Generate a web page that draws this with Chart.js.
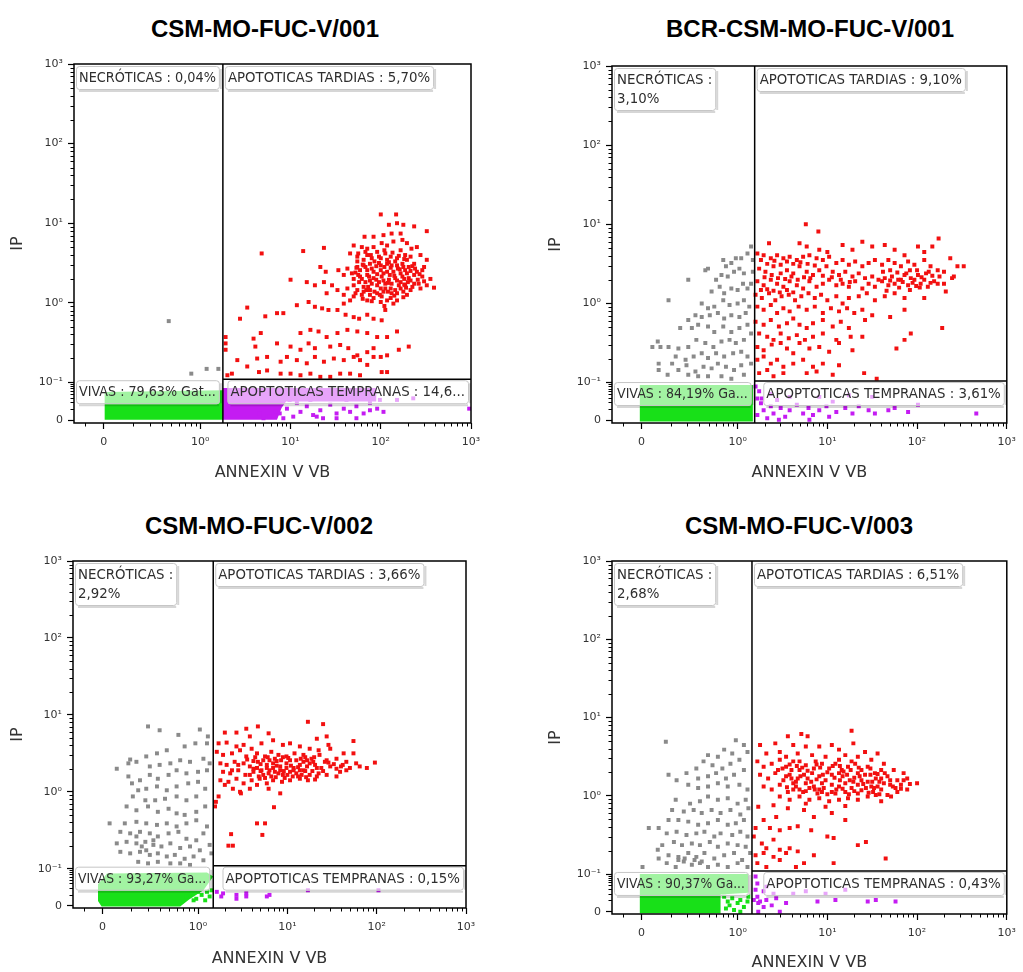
<!DOCTYPE html>
<html lang="es">
<head>
<meta charset="UTF-8">
<title>Anexina V / IP</title>
<script src="https://cdn.jsdelivr.net/npm/chart.js"></script>
<style>
  body { margin: 0; background: #fff; }
  #page { position: relative; width: 1023px; height: 972px; overflow: hidden; background: #fff; }
  .ttl { position: absolute; transform: translate(-50%, -50%); font: bold 24px "Liberation Sans", Arial, sans-serif; color: #000; white-space: nowrap; }
  canvas { position: absolute; }
</style>
</head>
<body>
<div id="page"></div>
<script>
// axes are in decade units: 10^n sits at n, the linear "0" sits below 10^0 / 10^-1
const xTickPos = [-1.07, 0, 1, 2, 3];
const xTickText = ['0', '10⁰', '10¹', '10²', '10³'];
const yTickPos = [-1.48, -1, 0, 1, 2, 3];
const yTickText = ['0', '10⁻¹', '10⁰', '10¹', '10²', '10³'];

const sampleNames = ['CSM-MO-FUC-V/001', 'BCR-CSM-MO-FUC-V/001', 'CSM-MO-FUC-V/002', 'CSM-MO-FUC-V/003'];
const gateX = [0.25, 0.19, 0.17, 0.16];
const gateY = [-0.96, -0.98, -0.96, -0.96];
const necroText = [['NECRÓTICAS : 0,04%'], ['NECRÓTICAS :', '3,10%'], ['NECRÓTICAS :', '2,92%'], ['NECRÓTICAS :', '2,68%']];
const tardiasText = [['APOTOTICAS TARDIAS : 5,70%'], ['APOTOTICAS TARDIAS : 9,10%'], ['APOTOTICAS TARDIAS : 3,66%'], ['APOTOTICAS TARDIAS : 6,51%']];
const vivasText = ['VIVAS : 79,63% Gat...', 'VIVAS : 84,19% Ga...', 'VIVAS : 93,27% Ga...', 'VIVAS : 90,37% Ga...'];
const tempranasText = ['APOPTOTICAS TEMPRANAS : 14,6...', 'APOPTOTICAS TEMPRANAS : 3,61%', 'APOPTOTICAS TEMPRANAS : 0,15%', 'APOPTOTICAS TEMPRANAS : 0,43%'];

// ---- CSM-MO-FUC-V/001 ----
const vivasBand001 = [[-1.06,-1.47],[-1.06,-1.12],[0.25,-1.10],[0.25,-1.47]];
const tempranasBand001 = [[0.25,-1.47],[0.25,-1.07],[1.95,-1.07],[1.95,-1.24],[0.95,-1.24],[0.90,-1.32],[0.85,-1.47]];
const tempranas001 = [[0.88,-1.39],[0.96,-1.33],[1.03,-1.43],[1.11,-1.37],[1.18,-1.30],[1.25,-1.41],[1.33,-1.35],[1.36,-1.45],[1.44,-1.28],[1.51,-1.39],[1.59,-1.33],[1.66,-1.37],[1.73,-1.30],[1.81,-1.39],[1.88,-1.35],[1.96,-1.33],[2.03,-1.37],[1.29,-1.43],[0.92,-1.45],[1.07,-1.26],[1.44,-1.18],[1.62,-1.22],[1.81,-1.18],[1.99,-1.22],[2.18,-1.22],[2.36,-1.20],[2.98,-1.33],[0.77,-1.43],[0.83,-1.37],[0.70,-1.45],[0.66,-1.39],[0.99,-1.22],[1.22,-1.22],[1.73,-1.45],[1.51,-1.45],[1.88,-1.26]];
const necro001 = [[-0.35,-0.23],[-0.10,-0.89],[0.07,-0.83],[0.20,-0.83]];
const tardias001 = [
  [2.00,1.11],[2.17,1.11],[2.09,0.98],[2.18,1.00],[2.25,0.98],[2.37,0.96],[2.51,0.90],
  [1.82,0.83],[1.92,0.83],[2.03,0.85],[2.12,0.87],[2.22,0.87],[2.24,0.79],[2.29,0.75],[2.34,0.68],[2.40,0.70],
  [1.70,0.72],[1.79,0.70],[1.85,0.68],[1.92,0.70],[2.01,0.75],[2.07,0.72],[2.14,0.77],[2.22,0.66],[2.27,0.60],[2.44,0.60],[2.51,0.54],
  [1.66,0.62],[1.74,0.58],[1.85,0.60],[1.96,0.64],[2.05,0.62],[2.11,0.58],[2.18,0.56],[2.29,0.54],[2.37,0.49],[2.48,0.45],
  [1.33,0.45],[1.39,0.39],[1.53,0.41],[1.63,0.43],[1.74,0.45],[1.81,0.47],[1.88,0.49],[2.00,0.47],[2.07,0.49],[2.18,0.47],[2.25,0.45],[2.40,0.39],[2.46,0.33],
  [1.59,0.35],[1.68,0.37],[1.77,0.33],[1.85,0.35],[1.92,0.31],[2.01,0.33],[2.09,0.29],[2.16,0.31],[2.22,0.26],[2.31,0.31],[2.37,0.24],[2.51,0.22],[2.59,0.19],
  [1.00,0.29],[1.18,0.26],[1.27,0.22],[1.37,0.26],[1.46,0.22],[1.52,0.16],[1.63,0.18],[1.70,0.22],[1.74,0.16],[1.81,0.20],[1.88,0.16],[1.96,0.22],[2.03,0.14],[2.11,0.18],[2.18,0.12],[2.25,0.14],[2.33,0.16],[2.44,0.18],
  [1.40,0.12],[1.59,0.10],[1.70,0.08],[1.79,0.10],[1.85,0.03],[1.92,0.06],[2.01,0.08],[2.11,0.06],[2.18,0.03],[2.29,0.10],
  [0.68,0.62],[1.14,0.65],[1.37,0.69],
  [0.52,-0.06],[0.44,-0.20],[0.72,-0.17],[0.85,-0.13],[0.92,-0.13],[1.07,-0.03],[1.20,0.01],[1.27,-0.05],[1.35,-0.07],[1.42,-0.09],[1.52,-0.09],[1.61,-0.15],[1.70,-0.18],[1.76,-0.20],[1.85,-0.15],[1.92,-0.20],[2.01,-0.22],[2.05,-0.09],
  [0.67,-0.38],[0.59,-0.45],[1.11,-0.38],[1.22,-0.34],[1.31,-0.36],[1.40,-0.43],[1.52,-0.38],[1.63,-0.34],[1.74,-0.36],[1.85,-0.38],[1.96,-0.43],[2.07,-0.43],[2.18,-0.36],[2.31,-0.55],
  [0.61,-0.55],[0.85,-0.51],[1.00,-0.55],[1.11,-0.59],[1.20,-0.51],[1.27,-0.57],[1.44,-0.55],[1.55,-0.53],[1.64,-0.57],[1.74,-0.66],[1.85,-0.62],[1.92,-0.57],[2.00,-0.68],[2.07,-0.66],[2.20,-0.59],
  [0.41,-0.72],[0.63,-0.70],[0.74,-0.68],[0.89,-0.74],[0.96,-0.68],[1.07,-0.72],[1.18,-0.76],[1.27,-0.68],[1.37,-0.74],[1.48,-0.70],[1.59,-0.72],[1.70,-0.68],[1.77,-0.72],[1.85,-0.78],[1.92,-0.68],[2.01,-0.87],[2.07,-0.87],
  [0.30,-0.91],[0.35,-0.89],[0.52,-0.80],[0.65,-0.87],[0.74,-0.85],[0.89,-0.89],[1.00,-0.89],[1.11,-0.91],[1.22,-0.89],[1.33,-0.93],[1.44,-0.93],[1.55,-0.89],[1.66,-0.89],[1.77,-0.91],
  [0.28,-0.43],[0.28,-0.51],[0.28,-0.59],
  [1.74,0.52],[1.81,0.54],[1.90,0.56],[2.00,0.56],[2.07,0.54],[2.16,0.52],[2.24,0.49],[2.31,0.45],[2.38,0.43],
  [1.76,0.26],[1.83,0.26],[1.90,0.24],[1.98,0.26],[2.05,0.24],[2.12,0.24],[2.20,0.22],[2.27,0.22],[2.35,0.20],[2.42,0.24],
  [1.77,0.41],[1.85,0.41],[1.92,0.39],[2.00,0.41],[2.07,0.39],[2.14,0.39],[2.22,0.37],[2.29,0.37],[2.37,0.35],
  [1.81,0.14],[1.88,0.10],[1.96,0.12],[2.05,0.18],[2.12,0.12],[2.22,0.18],[2.07,0.03],[2.14,-0.01],[2.00,0.01],[1.66,0.03],[1.59,-0.01],
  [1.79,0.30],[1.88,0.28],[1.96,0.36],[2.03,0.28],[2.10,0.35],[2.18,0.28],[2.26,0.30],[1.80,0.48],[1.95,0.46],[2.11,0.44],[2.21,0.42],[2.30,0.26],[1.86,0.20],[2.00,0.18],[2.16,0.16],[2.28,0.19],[1.93,0.52],[2.09,0.51],[2.33,0.40],[1.72,0.38],
  [1.75,0.62],[1.83,0.64],[1.89,0.60],[1.98,0.58],[2.04,0.66],[2.13,0.63],[2.20,0.59],[2.26,0.55],[2.33,0.58],
  [1.73,0.44],[1.83,0.45],[1.90,0.43],[1.98,0.50],[2.04,0.45],[2.12,0.47],[2.19,0.43],[2.27,0.41],[2.35,0.46],[2.43,0.36],
  [1.70,0.30],[1.75,0.35],[1.87,0.33],[1.95,0.29],[2.03,0.37],[2.08,0.25],[2.15,0.34],[2.24,0.33],[2.33,0.28],[2.41,0.29],
  [1.72,0.12],[1.84,0.16],[1.93,0.14],[1.99,0.10],[2.08,0.14],[2.15,0.09],[2.25,0.07],[1.90,0.02],[2.04,-0.04],[1.80,0.05],[2.26,0.23],[2.48,0.27],[2.55,0.30],[2.46,0.41]
];

// ---- BCR-CSM-MO-FUC-V/001 ----
const vivasBandBcr001 = [[-1.09,-1.49],[-1.09,-1.03],[0.17,-1.03],[0.17,-1.49]];
const tempranasBcr001 = [[0.20,-1.05],[0.24,-1.11],[0.22,-1.20],[0.26,-1.26],[0.29,-1.35],[0.22,-1.41],[0.33,-1.45],[0.37,-1.30],[0.40,-1.39],[0.44,-1.22],[0.48,-1.32],[0.53,-1.43],[0.58,-1.35],[0.66,-1.28],[0.73,-1.39],[0.79,-1.32],[0.84,-1.41],[0.91,-1.35],[0.99,-1.30],[1.02,-1.43],[1.10,-1.37],[1.20,-1.32],[1.28,-1.39],[1.35,-1.30],[1.46,-1.35],[1.53,-1.39],[1.68,-1.35],[1.75,-1.32],[1.90,-1.37],[2.01,-1.28],[2.66,-1.39],[0.37,-1.14],[0.58,-1.18],[0.91,-1.18],[1.24,-1.16],[1.50,-1.18],[0.27,-1.20],[0.46,-1.47],[0.80,-1.47],[1.06,-1.24]];
const necroBcr001 = [
  [0.15,0.72],[0.11,0.63],[0.04,0.57],[-0.02,0.57],[-0.07,0.51],[-0.16,0.55],[-0.13,0.47],[0.02,0.44],[0.07,0.38],[-0.04,0.40],[-0.11,0.34],[-0.18,0.36],[-0.24,0.30],[-0.33,0.44],[-0.36,0.42],[-0.55,0.30],[-0.77,0.04],
  [0.15,0.25],[0.11,0.19],[0.06,0.25],[0.00,0.17],[-0.07,0.19],[-0.15,0.13],[-0.20,0.21],[-0.29,0.15],[-0.40,0.00],[-0.33,-0.06],[-0.26,-0.04],[-0.16,0.04],[-0.09,-0.02],[0.00,0.00],[0.07,0.04],[0.13,-0.04],
  [0.09,-0.12],[0.02,-0.17],[-0.07,-0.15],[-0.15,-0.19],[-0.22,-0.12],[-0.31,-0.15],[-0.40,-0.17],[-0.47,-0.15],[-0.55,-0.21],[-0.51,-0.31],[-0.64,-0.31],[-0.44,-0.27],[-0.33,-0.29],[-0.26,-0.36],[-0.16,-0.29],[-0.07,-0.36],[0.02,-0.31],[0.11,-0.27],
  [0.15,-0.38],[0.07,-0.46],[-0.02,-0.50],[-0.09,-0.46],[-0.18,-0.48],[-0.27,-0.55],[-0.36,-0.50],[-0.46,-0.46],[-0.55,-0.55],[-0.66,-0.57],[-0.77,-0.55],[-0.86,-0.55],[-0.95,-0.55],[-0.89,-0.48],
  [-0.69,-0.67],[-0.58,-0.71],[-0.49,-0.67],[-0.40,-0.63],[-0.33,-0.69],[-0.24,-0.63],[-0.15,-0.67],[-0.05,-0.63],[0.04,-0.61],[0.11,-0.67],[0.15,-0.76],[0.04,-0.78],[-0.04,-0.84],[-0.13,-0.80],[-0.22,-0.76],[-0.29,-0.82],[-0.38,-0.80],[-0.47,-0.86],[-0.57,-0.78],[-0.66,-0.84],[-0.73,-0.76],[-0.88,-0.76],[-0.88,-0.84],[-0.78,-0.90],[-0.55,-0.90],[-0.44,-0.92],[-0.33,-0.92],[-0.18,-0.92],[-0.07,-0.95],[0.07,-0.90],[0.17,0.55],[0.17,0.40]
];
const tardiasBcr001 = [
  [0.76,1.00],[0.90,0.91],[0.35,0.76],[0.69,0.76],[0.77,0.72],[0.91,0.68],[1.00,0.65],[1.17,0.74],[1.28,0.68],[1.39,0.78],[1.50,0.72],[1.64,0.74],[1.75,0.68],[1.86,0.61],[2.01,0.72],[2.08,0.65],[2.17,0.72],[2.24,0.82],[2.37,0.57],[2.45,0.47],[2.52,0.47],
  [0.22,0.63],[0.29,0.61],[0.37,0.57],[0.44,0.61],[0.51,0.57],[0.58,0.59],[0.66,0.55],[0.73,0.59],[0.80,0.61],[0.88,0.57],[0.95,0.55],[1.02,0.59],[1.10,0.51],[1.17,0.55],[1.24,0.49],[1.31,0.53],[1.39,0.47],[1.46,0.51],[1.53,0.55],[1.61,0.49],[1.68,0.55],[1.75,0.51],[1.82,0.47],[1.90,0.53],[1.97,0.49],[2.08,0.55],[2.15,0.47],[2.23,0.42],[2.30,0.40],[2.41,0.34],
  [0.24,0.44],[0.31,0.40],[0.40,0.47],[0.48,0.38],[0.55,0.42],[0.62,0.38],[0.69,0.47],[0.77,0.40],[0.84,0.36],[0.91,0.42],[0.99,0.47],[1.06,0.40],[1.13,0.36],[1.20,0.40],[1.28,0.34],[1.35,0.38],[1.42,0.32],[1.50,0.34],[1.57,0.30],[1.64,0.32],[1.72,0.34],[1.79,0.30],[1.86,0.36],[1.93,0.32],[2.01,0.36],[2.08,0.30],[2.13,0.40],[2.19,0.28],[2.30,0.25],[2.39,0.32],
  [0.22,0.28],[0.29,0.23],[0.37,0.30],[0.44,0.25],[0.51,0.21],[0.58,0.28],[0.66,0.23],[0.73,0.19],[0.80,0.28],[0.88,0.21],[0.95,0.25],[1.02,0.30],[1.10,0.23],[1.17,0.25],[1.24,0.21],[1.31,0.28],[1.39,0.19],[1.46,0.25],[1.53,0.21],[1.61,0.28],[1.68,0.23],[1.75,0.25],[1.82,0.30],[1.90,0.23],[1.97,0.30],[2.04,0.25],[2.12,0.21],[2.23,0.25],[2.32,0.15],
  [1.84,0.27],[1.95,0.26],[2.05,0.33],[1.70,0.29],[1.99,0.22],[1.88,0.38],
  [0.20,0.11],[0.27,0.07],[0.35,0.13],[0.42,0.04],[0.49,0.09],[0.57,0.11],[0.64,0.04],[0.71,0.09],[0.79,0.13],[0.86,0.07],[0.93,0.11],[1.00,0.04],[1.10,0.09],[1.17,0.00],[1.24,0.07],[1.35,0.09],[1.44,0.13],[1.53,0.04],[1.64,0.09],[1.75,0.13],[1.86,0.07],[2.08,0.07],
  [0.22,-0.04],[0.29,-0.08],[0.37,-0.02],[0.44,-0.12],[0.51,-0.06],[0.58,-0.10],[0.68,-0.04],[0.77,-0.08],[0.86,-0.04],[0.95,-0.12],[1.04,-0.06],[1.13,-0.10],[1.22,-0.06],[1.30,-0.12],[1.39,-0.08],[1.50,-0.15],[1.70,-0.17],[1.86,-0.08],
  [0.20,-0.23],[0.29,-0.27],[0.37,-0.21],[0.46,-0.29],[0.55,-0.25],[0.62,-0.19],[0.69,-0.27],[0.77,-0.31],[0.84,-0.25],[0.95,-0.21],[1.06,-0.29],[1.15,-0.23],[1.24,-0.31],[1.42,-0.21],[2.28,-0.31],
  [0.24,-0.38],[0.33,-0.42],[0.40,-0.46],[0.48,-0.38],[0.57,-0.44],[0.66,-0.40],[0.75,-0.46],[0.84,-0.42],[0.95,-0.38],[1.10,-0.46],[1.26,-0.42],[1.39,-0.42],[1.77,-0.57],[1.86,-0.46],[1.93,-0.38],
  [0.22,-0.55],[0.29,-0.59],[0.38,-0.52],[0.48,-0.50],[0.55,-0.57],[0.62,-0.63],[0.69,-0.50],[0.80,-0.57],[0.91,-0.55],[1.02,-0.61],[1.13,-0.50],[1.28,-0.59],
  [0.22,-0.71],[0.29,-0.67],[0.37,-0.76],[0.44,-0.71],[0.51,-0.80],[0.62,-0.76],[0.73,-0.71],[0.84,-0.80],[0.95,-0.76],[1.13,-0.78],
  [0.24,-0.88],[0.33,-0.84],[0.40,-0.92],[0.51,-0.88],[0.77,-0.88],[0.88,-0.86],[1.06,-0.90],[1.41,-0.88],[1.55,-0.95],
  [0.26,0.55],[0.33,0.50],[0.41,0.54],[0.48,0.49],[0.55,0.53],[0.62,0.50],[0.70,0.52],[0.78,0.50],[0.86,0.48],[0.30,0.33],[0.38,0.36],[0.45,0.32],[0.53,0.31],[0.60,0.34],[0.67,0.30],[0.74,0.33],[0.81,0.32],
  [0.26,0.17],[0.33,0.18],[0.40,0.16],[0.47,0.14],[0.55,0.17],[0.62,0.14],[1.62,0.40],[1.70,0.42],[1.78,0.39],[1.92,0.42],[2.00,0.42],[2.10,0.38],[2.17,0.35],[2.25,0.34],[1.66,0.16],[1.80,0.20],[1.92,0.17],[2.03,0.20],[2.15,0.26],[0.95,0.35],[1.05,0.33],[1.15,0.30],[1.25,0.27]
];

// ---- CSM-MO-FUC-V/002 ----
const vivasBand002 = [[-1.08,-1.49],[-1.12,-1.42],[-1.12,-1.2],[-1.02,-1.06],[0.10,-1.05],[0.17,-1.1],[0.06,-1.28],[-0.10,-1.4],[-0.20,-1.49]];
const vivasDots002 = [[-0.13,-1.36],[-0.07,-1.32],[-0.02,-1.39],[0.04,-1.34],[0.10,-1.30],[0.13,-1.36],[0.08,-1.41],[0.00,-1.30],[-0.05,-1.41],[0.15,-1.28]];
const tempranas002 = [[0.21,-1.30],[0.26,-1.36],[0.28,-1.32],[0.43,-1.34],[0.43,-1.39],[0.54,-1.32],[0.54,-1.36],[0.77,-1.36],[0.80,-1.34],[1.23,-1.28],[2.02,-1.28]];
const necro002 = [
  [-0.56,0.85],[-0.43,0.80],[-0.22,0.74],[0.02,0.81],[0.11,0.72],[0.10,0.63],[-0.03,0.63],[-0.15,0.59],[-0.35,0.54],[-0.46,0.50],[-0.58,0.46],[-0.76,0.42],[-0.91,0.30],[-0.78,0.37],[-0.69,0.39],[-0.54,0.33],[-0.43,0.35],[-0.31,0.37],[-0.20,0.41],[-0.09,0.39],[0.06,0.43],[0.13,0.37],
  [0.10,0.28],[0.00,0.26],[-0.13,0.24],[-0.24,0.28],[-0.33,0.22],[-0.45,0.17],[-0.54,0.22],[-0.65,0.15],[-0.74,0.11],[-0.78,0.20],[-0.67,0.02],[-0.58,0.04],[-0.46,0.07],[-0.35,0.02],[-0.24,0.07],[-0.11,0.11],[0.00,0.13],[0.08,0.04],
  [-0.02,-0.06],[-0.13,-0.11],[-0.24,-0.06],[-0.37,-0.09],[-0.48,-0.11],[-0.59,-0.11],[-0.73,-0.06],[-0.80,-0.19],[-0.69,-0.24],[-0.56,-0.19],[-0.45,-0.26],[-0.33,-0.22],[-0.24,-0.28],[-0.15,-0.30],[-0.02,-0.26],[0.08,-0.19],
  [0.10,-0.45],[-0.02,-0.37],[-0.13,-0.41],[-0.24,-0.45],[-0.35,-0.41],[-0.46,-0.43],[-0.58,-0.41],[-0.69,-0.39],[-0.82,-0.41],[-0.99,-0.41],[-0.87,-0.52],[-0.76,-0.54],[-0.65,-0.52],[-0.54,-0.54],[-0.45,-0.58],[-0.33,-0.54],[-0.22,-0.52],[-0.13,-0.61],[-0.02,-0.63],[0.06,-0.54],
  [-0.91,-0.67],[-0.80,-0.65],[-0.69,-0.67],[-0.59,-0.65],[-0.50,-0.69],[-0.41,-0.71],[-0.31,-0.67],[-0.20,-0.73],[-0.09,-0.71],[0.02,-0.76],[0.13,-0.69],
  [-0.87,-0.78],[-0.76,-0.80],[-0.65,-0.78],[-0.54,-0.82],[-0.45,-0.80],[-0.35,-0.84],[-0.26,-0.82],[-0.15,-0.87],[-0.05,-0.84],[0.06,-0.89],[0.15,-0.80],
  [-0.67,-0.91],[-0.56,-0.93],[-0.45,-0.91],[-0.31,-0.93],[-0.20,-0.93],[-0.09,-0.95],[-0.63,-0.71],[-0.58,-0.76],[-0.50,-0.63],[-0.69,-0.58]
];
const tardias002 = [
  [1.23,0.91],[1.40,0.88],[0.67,0.85],[0.54,0.82],[0.43,0.77],[0.30,0.77],[0.79,0.76],[0.58,0.72],[1.33,0.69],[1.44,0.72],[1.46,0.61],[1.74,0.66],
  [0.23,0.63],[0.32,0.64],[0.43,0.59],[0.51,0.61],[0.60,0.56],[0.71,0.63],[0.84,0.67],[0.95,0.61],[1.03,0.63],[1.14,0.59],[1.25,0.56],[1.35,0.54],[1.48,0.56],[1.63,0.50],[1.74,0.50],
  [0.21,0.52],[0.28,0.48],[0.38,0.50],[0.47,0.54],[0.54,0.46],[0.66,0.50],[0.75,0.46],[0.82,0.52],[0.90,0.48],[0.99,0.46],[1.08,0.50],[1.18,0.48],[1.27,0.43],[1.36,0.48],[1.44,0.41],[1.55,0.43],[1.66,0.39],[1.77,0.37],[1.81,0.33],[1.89,0.31],[1.98,0.38],
  [0.25,0.37],[0.32,0.35],[0.41,0.39],[0.51,0.37],[0.58,0.33],[0.67,0.39],[0.77,0.35],[0.84,0.37],[0.92,0.33],[0.99,0.37],[1.07,0.31],[1.14,0.35],[1.22,0.33],[1.31,0.35],[1.38,0.31],[1.48,0.33],[1.59,0.26],[1.66,0.28],
  [0.28,0.26],[0.36,0.24],[0.45,0.28],[0.53,0.22],[0.62,0.26],[0.71,0.28],[0.79,0.24],[0.86,0.26],[0.95,0.22],[1.03,0.26],[1.10,0.24],[1.18,0.28],[1.25,0.22],[1.35,0.24],[1.44,0.22],[1.55,0.20],
  [0.25,0.15],[0.34,0.13],[0.43,0.17],[0.51,0.11],[0.60,0.15],[0.69,0.17],[0.77,0.11],[0.84,0.15],[0.94,0.13],[1.03,0.15],[1.14,0.17],[1.23,0.15],[1.33,0.20],
  [0.30,0.09],[0.39,0.04],[0.47,0.00],[0.58,0.04],[0.66,0.09],[0.79,0.04],[0.92,-0.02],[0.23,-0.06],[0.20,-0.13],[0.19,-0.19],[0.48,-0.02],[0.85,-0.20],[0.66,-0.41],[0.75,-0.41],[0.37,-0.55],[0.72,-0.56],[0.34,-0.70],[0.39,-0.70],
  [0.77,0.31],[0.84,0.31],[0.92,0.28],[0.99,0.31],[1.07,0.28],[1.14,0.28],[0.66,0.31],[0.58,0.22],[1.18,0.39],[1.25,0.37],[1.33,0.31],[1.10,0.41],[1.03,0.41],[0.80,0.41],[0.88,0.40],[0.73,0.41],
  [0.73,0.22],[0.82,0.20],[0.90,0.24],[0.97,0.18],[1.06,0.20],[1.16,0.22],[1.28,0.27],[1.40,0.27],[1.46,0.38],[1.20,0.45],[0.95,0.45],[0.70,0.36],[0.62,0.40],[1.52,0.36],[1.60,0.33],
  [0.55,0.42],[0.64,0.45],[0.78,0.45],[0.86,0.43],[0.93,0.41],[1.01,0.44],[1.15,0.43],[1.22,0.41],[1.30,0.45],[0.62,0.30],[0.70,0.27],[0.80,0.28],[0.88,0.34],[0.96,0.27],[1.04,0.34],[1.12,0.32],
  [1.20,0.27],[1.29,0.39],[1.42,0.39],[0.68,0.20],[0.75,0.18],[0.87,0.19],[1.00,0.22],[1.12,0.20],[1.21,0.19],[1.31,0.16],[0.45,0.35],[0.38,0.28],[1.55,0.30],[1.62,0.35],[1.70,0.31]
];

// ---- CSM-MO-FUC-V/003 ----
const vivasBand003 = [[-1.09,-1.50],[-1.09,-1.0],[0.12,-1.0],[0.12,-1.24],[-0.19,-1.26],[-0.19,-1.50]];
const vivasDots003 = [[-0.15,-1.29],[-0.11,-1.35],[-0.06,-1.31],[0.00,-1.37],[0.03,-1.33],[0.07,-1.42],[0.11,-1.35],[-0.13,-1.44],[-0.04,-1.46],[0.03,-1.48],[0.12,-1.29],[-0.09,-1.40]];
const tempranas003 = [[0.20,-1.03],[0.22,-1.12],[0.20,-1.20],[0.22,-1.29],[0.25,-1.35],[0.29,-1.42],[0.23,-1.48],[0.32,-1.33],[0.38,-1.40],[0.43,-1.31],[0.47,-1.48],[0.54,-1.37],[0.62,-1.25],[0.76,-1.22],[0.89,-1.35],[0.98,-1.25],[1.09,-1.33],[1.20,-1.20],[1.45,-1.35],[1.54,-1.33],[1.76,-1.35],[0.32,-1.16],[0.40,-1.25],[0.29,-1.22],[0.23,-1.37],[0.18,-1.33]];
const necro003 = [
  [-0.80,0.69],[-0.02,0.71],[0.07,0.65],[-0.15,0.59],[-0.06,0.54],[0.11,0.56],[-0.22,0.50],[-0.33,0.52],[-0.46,0.35],[-0.38,0.44],[-0.28,0.39],[-0.17,0.35],[-0.08,0.41],[0.02,0.46],[0.07,0.33],[-0.04,0.27],[-0.13,0.22],[-0.24,0.29],[-0.33,0.25],[-0.44,0.22],[-0.57,0.29],[-0.68,0.20],[-0.77,0.27],
  [-0.55,0.14],[-0.44,0.10],[-0.33,0.12],[-0.22,0.16],[-0.11,0.12],[0.02,0.14],[0.11,0.08],[0.09,-0.05],[0.00,-0.10],[-0.11,-0.03],[-0.22,-0.05],[-0.33,-0.01],[-0.42,-0.07],[-0.53,-0.10],[-0.69,-0.05],
  [-0.73,-0.18],[-0.60,-0.20],[-0.49,-0.18],[-0.40,-0.22],[-0.29,-0.18],[-0.19,-0.22],[-0.08,-0.18],[0.03,-0.24],[0.12,-0.16],[0.07,-0.31],[-0.02,-0.35],[-0.11,-0.37],[-0.22,-0.31],[-0.33,-0.35],[-0.44,-0.37],[-0.55,-0.33],[-0.66,-0.31],[-0.77,-0.31],
  [-0.88,-0.41],[-0.99,-0.41],[-0.79,-0.48],[-0.68,-0.46],[-0.57,-0.50],[-0.46,-0.48],[-0.37,-0.46],[-0.26,-0.52],[-0.19,-0.48],[-0.06,-0.50],[0.03,-0.46],[0.11,-0.52],
  [0.09,-0.65],[0.00,-0.63],[-0.11,-0.61],[-0.22,-0.65],[-0.31,-0.59],[-0.42,-0.63],[-0.51,-0.61],[-0.62,-0.63],[-0.71,-0.59],[-0.84,-0.63],[-0.89,-0.69],
  [-0.77,-0.76],[-0.66,-0.78],[-0.55,-0.73],[-0.46,-0.78],[-0.37,-0.73],[-0.26,-0.80],[-0.15,-0.76],[-0.04,-0.73],[0.05,-0.82],[0.14,-0.73],
  [-0.88,-0.80],[-0.79,-0.86],[-0.69,-0.91],[-0.60,-0.84],[-0.51,-0.88],[-0.42,-0.86],[-0.33,-0.91],[-0.22,-0.88],[-0.11,-0.91],[0.00,-0.86],[0.11,-0.91],[-1.06,-0.91],[-0.66,-0.82],[-0.59,-0.80],[-0.48,-0.82],[-0.40,-0.84]
];
const tardias003 = [
  [1.27,0.83],[0.71,0.79],[0.78,0.76],[0.56,0.76],[1.29,0.67],[0.25,0.65],[0.42,0.67],[0.62,0.65],[0.76,0.63],[0.91,0.63],[1.05,0.65],[1.13,0.59],[1.42,0.56],[1.56,0.54],[0.32,0.54],[0.47,0.56],[0.54,0.50],[0.67,0.54],[0.83,0.52],[0.98,0.50],[1.20,0.52],[1.34,0.50],[1.49,0.46],[1.63,0.41],[1.74,0.33],[1.85,0.29],[1.89,0.22],[2.00,0.16],[1.89,0.08],[1.71,-0.01],[1.60,-0.07],
  [0.22,0.44],[0.29,0.37],[0.38,0.41],[0.45,0.33],[0.54,0.37],[0.62,0.44],[0.69,0.33],[0.76,0.39],[0.85,0.35],[0.94,0.41],[1.02,0.35],[1.09,0.41],[1.16,0.33],[1.23,0.37],[1.31,0.41],[1.38,0.33],[1.45,0.37],[1.53,0.29],[1.60,0.33],[1.67,0.25],[1.78,0.20],
  [0.25,0.27],[0.34,0.22],[0.42,0.29],[0.51,0.20],[0.58,0.27],[0.67,0.22],[0.74,0.27],[0.82,0.18],[0.91,0.25],[0.98,0.20],[1.05,0.27],[1.14,0.20],[1.22,0.27],[1.29,0.18],[1.36,0.25],[1.45,0.18],[1.54,0.22],[1.63,0.16],[1.73,0.12],[1.82,0.14],
  [0.29,0.12],[0.38,0.08],[0.47,0.14],[0.56,0.05],[0.65,0.12],[0.73,0.05],[0.80,0.10],[0.89,0.03],[0.96,0.10],[1.05,0.05],[1.13,0.12],[1.20,0.05],[1.27,0.10],[1.34,0.03],[1.43,0.10],[1.51,0.05],[1.60,0.08],[1.67,0.01],[1.78,0.05],
  [0.47,-0.01],[0.58,-0.05],[0.69,-0.01],[0.80,-0.05],[0.91,-0.03],[1.02,-0.07],[1.13,-0.05],[1.23,-0.03],[1.34,-0.05],[1.45,-0.01],[1.54,0.01],[1.09,0.03],[0.94,0.16],[0.83,0.29],[1.13,0.46],[1.27,0.44],[0.76,-0.10],[0.98,-0.14],[1.20,-0.13],
  [0.62,0.16],[0.76,0.16],[1.05,0.14],[1.20,0.16],[1.34,0.14],[1.49,0.12],[0.54,0.25],[1.13,0.29],[1.42,0.27],[1.56,0.12],[0.87,0.44],[0.69,0.44],[0.47,0.46],[1.34,0.29],[0.91,0.08],[0.69,0.08],
  [0.60,0.33],[0.72,0.36],[0.88,0.40],[1.00,0.30],[1.18,0.31],[1.30,0.23],[1.48,0.27],[1.58,0.18],[0.65,0.18],[0.85,0.12],[1.00,0.02],[1.17,0.09],[1.30,0.06],[1.40,0.15],[1.52,0.10],[1.70,0.20],[0.55,0.11],
  [0.50,0.35],[0.58,0.40],[0.66,0.38],[0.78,0.32],[0.92,0.36],[1.06,0.38],[1.14,0.38],[1.26,0.33],[1.35,0.36],[1.48,0.35],[1.56,0.28],[1.64,0.29],[0.60,0.22],[0.70,0.25],[0.78,0.22],[0.88,0.21],
  [0.95,0.27],[1.08,0.23],[1.17,0.25],[1.25,0.20],[1.38,0.20],[1.50,0.18],[1.60,0.22],[1.70,0.14],[1.76,0.10],[0.62,0.08],[0.76,0.06],[0.86,0.08],[0.94,0.05],[1.10,0.08],[1.24,0.02],[1.38,0.07],
  [1.46,0.04],[1.58,0.02],[1.85,0.20],[1.92,0.15],[1.82,0.09],
  [0.23,-0.14],[0.40,-0.12],[0.56,-0.16],[0.74,-0.18],[0.85,-0.27],[1.05,-0.22],[1.20,-0.31],[0.43,-0.27],[0.29,-0.31],[0.20,-0.41],[0.36,-0.41],[0.47,-0.44],[0.58,-0.41],[0.67,-0.39],[0.82,-0.44],[1.00,-0.52],[1.07,-0.54],[1.34,-0.63],[1.43,-0.59],[1.65,-0.80],
  [0.18,-0.52],[0.27,-0.61],[0.32,-0.67],[0.40,-0.56],[0.47,-0.69],[0.58,-0.67],[0.67,-0.71],[0.85,-0.76],[0.29,-0.73],[0.20,-0.76],[0.22,-0.86],[0.32,-0.91],[0.47,-0.82],[0.65,-0.91],[0.74,-0.86],[1.07,-0.86],[0.54,-0.73],[0.40,-0.78]
];

const vivasBands = [vivasBand001, vivasBandBcr001, vivasBand002, vivasBand003];
const vivasDots = [[], [], vivasDots002, vivasDots003];
const tempranasBands = [tempranasBand001, null, null, null];
const tempranasDots = [tempranas001, tempranasBcr001, tempranas002, tempranas003];
const necroDots = [necro001, necroBcr001, necro002, necro003];
const tardiasDots = [tardias001, tardiasBcr001, tardias002, tardias003];

const GREEN = '#18e018', VIOLET = '#c41cf2', RED = '#f21010', GREY = '#8a8a8a';
const LABEL_FONT = '14.5px "DejaVu Sans", sans-serif';
const SX = 0.92;

// panel placement on the page
const frames = [
  { left: 0,   top: 50,  w: 500, h: 440, yAxisW: 74, padTop: 14, padRight: 29, xAxisH: 67, xTitlePad: 8, tx: 265, ty: 29 },
  { left: 538, top: 50,  w: 485, h: 440, yAxisW: 74, padTop: 16, padRight: 9,  xAxisH: 67, xTitlePad: 8, tx: 810, ty: 29 },
  { left: 0,   top: 500, w: 500, h: 472, yAxisW: 73, padTop: 61, padRight: 34, xAxisH: 64, xTitlePad: 4, tx: 259, ty: 526 },
  { left: 538, top: 500, w: 485, h: 472, yAxisW: 74, padTop: 61, padRight: 8,  xAxisH: 58, xTitlePad: 0, tx: 799, ty: 526 }
];

// short log ticks between the labelled ones
const xMinor = [-1.28];
for (let k = 2; k <= 9; k++) xMinor.push(-1.07 * (1 - Math.log10(k)));
for (let d = 0; d < 3; d++) for (let k = 2; k <= 9; k++) xMinor.push(d + Math.log10(k));
const yMinor = [];
for (let k = 2; k <= 9; k++) yMinor.push(-1 - 0.48 * (1 - Math.log10(k)));
for (let d = -1; d < 3; d++) for (let k = 2; k <= 9; k++) yMinor.push(d + Math.log10(k));

function placeLabel(ctx, ax, top, lines, maxW, mode) {
  const raw = Math.max(...lines.map(s => ctx.measureText(s).width));
  let w = raw * SX + 7;
  if (mode === 'fill' || w > maxW) w = maxW;
  const sx = Math.min(SX, (w - 7) / raw);
  const x = mode === 'right' ? ax - w : ax;
  const h = 24 + 19 * (lines.length - 1);
  // box body lets the cells show through, lighter
  ctx.fillStyle = 'rgba(255,255,255,0.6)';
  ctx.beginPath(); ctx.roundRect(x, top, w, h, 3); ctx.fill();
  ctx.strokeStyle = 'rgba(0,0,0,0.16)'; ctx.lineWidth = 2;
  ctx.beginPath();
  ctx.moveTo(x + 3, top + h + 1); ctx.lineTo(x + w - 1, top + h + 1);
  ctx.moveTo(x + w + 1, top + 3); ctx.lineTo(x + w + 1, top + h - 1);
  ctx.stroke();
  ctx.strokeStyle = '#c6c6c6'; ctx.lineWidth = 1;
  ctx.beginPath(); ctx.roundRect(x + 0.5, top + 0.5, w - 1, h - 1, 3); ctx.stroke();
  ctx.fillStyle = '#2e2e2e';
  lines.forEach((s, k) => {
    ctx.save();
    ctx.translate(x + 3, top + 16 + 19 * k);
    ctx.scale(sx, 1);
    ctx.fillText(s, 0, 0);
    ctx.restore();
  });
}

function quadrantLayer(i) {
  return {
    id: 'quadrants',
    afterDatasetsDraw(chart) {
      const { ctx, chartArea: a, scales: { x, y } } = chart;
      const gx = x.getPixelForValue(gateX[i]);
      const gy = y.getPixelForValue(gateY[i]);
      ctx.save();
      ctx.font = LABEL_FONT;
      placeLabel(ctx, a.left + 2, a.top + 2, necroText[i], gx - a.left - 5, 'left');
      placeLabel(ctx, gx + 2, a.top + 2, tardiasText[i], a.right - gx - 5, 'left');
      placeLabel(ctx, a.left + 2, gy + 1, [vivasText[i]], gx - a.left - 5, 'fill');
      placeLabel(ctx, a.right - 2, gy + 1, [tempranasText[i]], a.right - gx - 5, 'right');

      ctx.strokeStyle = '#000';
      ctx.lineWidth = 1.5;
      ctx.beginPath();
      ctx.moveTo(gx, a.top); ctx.lineTo(gx, a.bottom);
      ctx.moveTo(gx, gy); ctx.lineTo(a.right, gy);
      ctx.stroke();
      ctx.strokeRect(a.left, a.top, a.right - a.left, a.bottom - a.top);

      ctx.lineWidth = 1;
      ctx.beginPath();
      xMinor.forEach(v => { const p = Math.round(x.getPixelForValue(v)) + 0.5; ctx.moveTo(p, a.bottom); ctx.lineTo(p, a.bottom + 3.5); });
      yMinor.forEach(v => { const p = Math.round(y.getPixelForValue(v)) + 0.5; ctx.moveTo(a.left - 3.5, p); ctx.lineTo(a.left, p); });
      ctx.stroke();
      ctx.restore();
    }
  };
}

function dots(data, color, order) {
  return { type: 'scatter', data, backgroundColor: color, pointStyle: 'rect', pointRadius: 2.8, borderWidth: 0, order };
}

function band(data, color, order) {
  return { type: 'line', data, fill: 'shape', backgroundColor: color, borderColor: 'transparent', borderWidth: 0, pointRadius: 0, tension: 0, order };
}

const page = document.getElementById('page');

frames.forEach((f, i) => {
  const t = document.createElement('div');
  t.className = 'ttl';
  t.style.left = f.tx + 'px';
  t.style.top = f.ty + 'px';
  t.textContent = sampleNames[i];
  page.appendChild(t);

  const cv = document.createElement('canvas');
  cv.width = f.w; cv.height = f.h;
  cv.style.left = f.left + 'px'; cv.style.top = f.top + 'px';
  page.appendChild(cv);

  const datasets = [band(vivasBands[i], GREEN, 10)];
  if (tempranasBands[i]) datasets.push(band(tempranasBands[i], VIOLET, 9));
  datasets.push(dots(vivasDots[i], GREEN, 8));
  datasets.push(dots(tempranasDots[i], VIOLET, 7));
  datasets.push(dots(necroDots[i], GREY, 6));
  datasets.push(dots(tardiasDots[i], RED, 5));

  new Chart(cv, {
    type: 'scatter',
    data: { datasets },
    options: {
      responsive: false,
      animation: false,
      events: [],
      layout: { padding: { top: f.padTop, right: f.padRight, left: 0, bottom: 0 } },
      plugins: { legend: { display: false }, tooltip: { enabled: false } },
      scales: {
        x: {
          type: 'linear', min: -1.4, max: 3.0,
          afterBuildTicks: s => { s.ticks = xTickPos.map(v => ({ value: v })); },
          afterFit: s => { s.height = f.xAxisH; },
          ticks: { autoSkip: false, maxRotation: 0, padding: 7, color: '#333', font: { family: 'DejaVu Sans', size: 11 }, callback: (v, k) => xTickText[k] },
          grid: { drawOnChartArea: false, drawTicks: true, tickLength: 6, tickColor: '#000', tickWidth: 1.2 },
          border: { display: false },
          title: { display: true, text: 'ANNEXIN V VB', color: '#333', font: { family: 'DejaVu Sans', size: 16 }, padding: { top: f.xTitlePad, bottom: f.xTitlePad } }
        },
        y: {
          type: 'linear', min: -1.51, max: 3.0,
          afterBuildTicks: s => { s.ticks = yTickPos.map(v => ({ value: v })); },
          afterFit: s => { s.width = f.yAxisW; },
          ticks: { autoSkip: false, padding: 5, color: '#333', font: { family: 'DejaVu Sans', size: 11 }, callback: (v, k) => yTickText[k] },
          grid: { drawOnChartArea: false, drawTicks: true, tickLength: 6, tickColor: '#000', tickWidth: 1.2 },
          border: { display: false },
          title: { display: true, text: 'IP', color: '#333', font: { family: 'DejaVu Sans', size: 16 }, padding: { top: 8, bottom: 0 } }
        }
      }
    },
    plugins: [quadrantLayer(i)]
  });
});
</script>
</body>
</html>
